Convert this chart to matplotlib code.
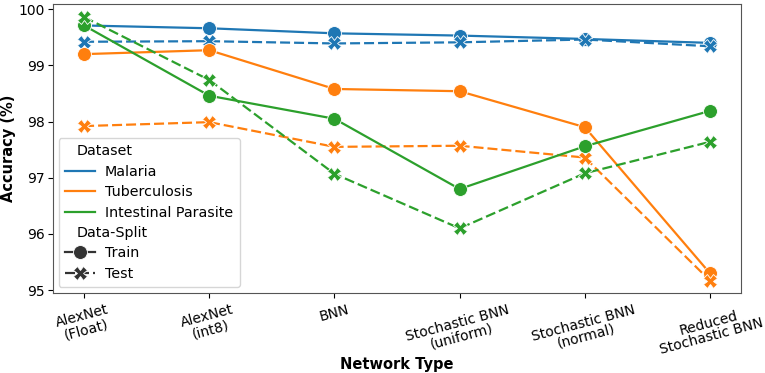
import matplotlib.pyplot as plt
from matplotlib.lines import Line2D
from matplotlib.transforms import ScaledTranslation

networks = ['AlexNet\n(Float)', 'AlexNet\n(int8)', 'BNN',
            'Stochastic BNN\n(uniform)', 'Stochastic BNN\n(normal)',
            'Reduced\nStochastic BNN']

datasets = ['Malaria', 'Tuberculosis', 'Intestinal Parasite']
colors = ['#1f77b4', '#ff7f0e', '#2ca02c']

train_acc = {
    'Malaria': [99.71, 99.66, 99.57, 99.53, 99.47, 99.40],
    'Tuberculosis': [99.20, 99.27, 98.58, 98.54, 97.90, 95.30],
    'Intestinal Parasite': [99.71, 98.46, 98.05, 96.80, 97.56, 98.19],
}
test_acc = {
    'Malaria': [99.42, 99.43, 99.39, 99.41, 99.46, 99.34],
    'Tuberculosis': [97.92, 97.99, 97.55, 97.57, 97.36, 95.17],
    'Intestinal Parasite': [99.86, 98.74, 97.07, 96.10, 97.08, 97.64],
}

x = list(range(len(networks)))
dash = (0, (4.5, 1.8))

fig = plt.figure(figsize=(7.65, 3.73), dpi=100)
ax = fig.add_axes([0.069, 0.2145, 0.9, 0.7745])

for name, c in zip(datasets, colors):
    ax.plot(x, train_acc[name], color=c, lw=1.6, marker='o', ms=10,
            mec='white', mew=0.6)
    ax.plot(x, test_acc[name], color=c, lw=1.6, ls=dash, marker='X',
            ms=10, mec='white', mew=0.6)

ax.set_xlim(-0.25, 5.25)
ax.set_ylim(94.95, 100.09)
ax.set_yticks([95, 96, 97, 98, 99, 100])
ax.set_xticks(x)
ax.set_xticklabels(networks, rotation=15, ha='center', fontsize=10,
                   linespacing=0.95)
ax.tick_params(labelsize=10)
ax.tick_params(axis='y', pad=2, length=3.5)
for s in ax.spines.values():
    s.set_color('#555555')

ax.set_xlabel('Network Type', fontsize=10.5, fontweight='bold', labelpad=0)
ax.set_ylabel('Accuracy (%)', fontsize=10.5, fontweight='bold', labelpad=2)

blank = Line2D([], [], color='none')
handles = [blank]
labels = ['Dataset']
for name, c in zip(datasets, colors):
    handles.append(Line2D([], [], color=c, lw=1.6))
    labels.append(name)
handles += [blank,
            Line2D([], [], color='#333333', lw=1.6, marker='o', ms=10,
                   mec='white', mew=0.6),
            Line2D([], [], color='#333333', lw=1.6, ls=dash,
                   marker='X', ms=10, mec='white', mew=0.6)]
labels += ['Data-Split', 'Train', 'Test']
leg = ax.legend(handles, labels, loc='lower left', fontsize=10.3,
                handlelength=2.1, labelspacing=0.45, borderaxespad=0.4,
                handletextpad=0.7, borderpad=0.45)
shift = ScaledTranslation(-0.28, 0, fig.dpi_scale_trans)
for i in (0, 4):
    t = leg.get_texts()[i]
    t.set_transform(t.get_transform() + shift)

fig.savefig('out.png', dpi=100)
